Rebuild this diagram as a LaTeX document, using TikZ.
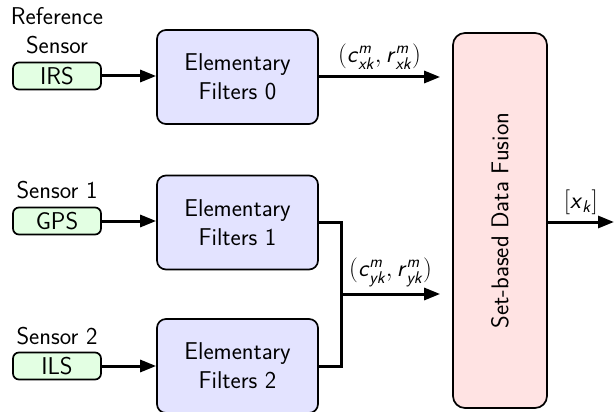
\documentclass[tikz,border=0pt]{standalone}
\usepackage{amsmath}
\usepackage{fontspec}
\usetikzlibrary{arrows.meta,positioning,calc}
\newcommand{\mi}[1]{\textsf{\textit{#1}}}
\begin{document}
\begin{tikzpicture}[x=1pt,y=-1pt,
  every node/.style={font=\sffamily\fontsize{24.3}{29}\selectfont},
  sensorbox/.style={draw,line width=1.7pt,rounded corners=6pt,fill=green!11,minimum width=88pt,minimum height=27pt,inner sep=0pt},
  filterbox/.style={draw,line width=1.7pt,rounded corners=9pt,fill=blue!11,minimum width=161pt,minimum height=94pt,align=center,inner sep=0pt},
  fusionbox/.style={draw,line width=1.7pt,rounded corners=12pt,fill=red!11,minimum width=94pt,minimum height=375pt,inner sep=0pt},
  conn/.style={line width=3pt},
  arr/.style={conn,-{Triangle[length=16pt,width=12pt]}},
  lbl/.style={align=center,inner sep=0pt}
]
\useasboundingbox (0,0) rectangle (614,412);
% sensors
\node[sensorbox] (irs) at (57,76) {IRS};
\node[sensorbox] (gps) at (57,221) {GPS};
\node[sensorbox] (ils) at (57,366) {ILS};
\node[lbl] (reflbl) at (57,31) {Reference\\Sensor};
\node[lbl] (s1lbl) at (57,190) {Sensor 1};
\node[lbl] (s2lbl) at (57,336) {Sensor 2};
% filters
\node[filterbox] (ef0) at (237.5,77) {Elementary\\Filters 0};
\node[filterbox] (ef1) at (237.5,222.5) {Elementary\\Filters 1};
\node[filterbox] (ef2) at (237.5,366) {Elementary\\Filters 2};
% fusion
\node[fusionbox] (fus) at (500,220.5) {};
\node[rotate=90] (fustxt) at (fus.center) {Set-based Data Fusion};
% connectors
\draw[arr] (irs.east) -- (irs.east -| ef0.west);
\draw[arr] (gps.east) -- (gps.east -| ef1.west);
\draw[arr] (ils.east) -- (ils.east -| ef2.west);
\coordinate (fin0) at ($(fus.west |- ef0.east)+(-12,0)$);
\draw[arr] (ef0.east) -- (fin0) node[midway,above=6pt,inner sep=0pt] {$(\mi{c}^{\mi{m}}_{\mi{xk}},\mi{r}^{\mi{m}}_{\mi{xk}})$};
\coordinate (m) at (341,294);
\draw[conn] (ef1.east) -| (m);
\draw[conn] (ef2.east) -| (m);
\coordinate (fin1) at ($(fus.west |- m)+(-12,0)$);
\draw[arr] (m) -- (fin1) node[midway,above=6pt,inner sep=0pt] {$(\mi{c}^{\mi{m}}_{\mi{yk}},\mi{r}^{\mi{m}}_{\mi{yk}})$};
\coordinate (out) at (614,222);
\draw[arr] (fus.east |- out) -- (out) node[midway,above=6pt,inner sep=0pt] {$[\mi{x}_{\mi{k}}]$};
\end{tikzpicture}
\end{document}
